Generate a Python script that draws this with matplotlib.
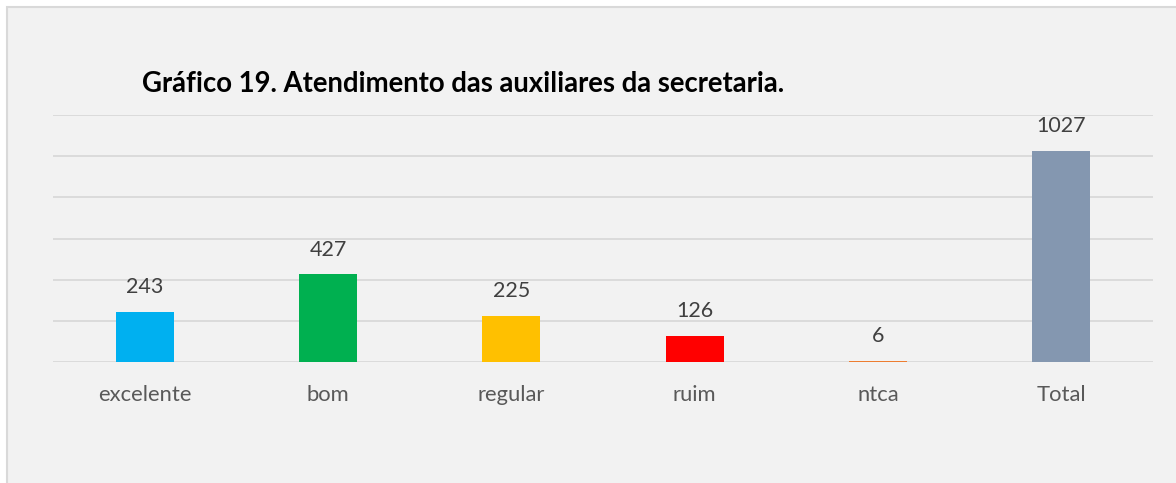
import matplotlib
matplotlib.use("Agg")
from matplotlib import pyplot as plt
from matplotlib.patches import Rectangle

categories = ["excelente", "bom", "regular", "ruim", "ntca", "Total"]
values = [243, 427, 225, 126, 6, 1027]
colors = ["#00B0F0", "#00B050", "#FFC000", "#FF0000", "#ED7D31", "#8497B0"]
title = "Gráfico 19. Atendimento das auxiliares da secretaria."

plt.rcParams["font.family"] = ["Lato", "DejaVu Sans"]

fig = plt.figure(figsize=(11.76, 4.83), dpi=100)
fig.patch.set_facecolor("white")
# chart area frame
fig.patches.append(Rectangle((7 / 1176, -0.1), 1.2, (483 - 7) / 483 + 0.1,
                             transform=fig.transFigure, facecolor="#F2F2F2",
                             edgecolor="#D9D9D9", lw=1.5, zorder=-1))

ax = fig.add_axes([53 / 1176, (483 - 362) / 483, 1100 / 1176, 247 / 483])
ax.set_zorder(2)
ax.set_facecolor("none")
x = range(len(categories))
bars = ax.bar(x, values, width=0.316, color=colors, zorder=3)
ax.set_xlim(-0.5, len(categories) - 0.5)
ax.set_ylim(0, 1200)
ax.set_yticks(range(0, 1201, 200))
ax.yaxis.grid(True, color="#D9D9D9", lw=1.3, zorder=0)
ax.tick_params(left=False, labelleft=False, bottom=False)
for s in ax.spines.values():
    s.set_visible(False)
ax.set_xticks(list(x))
ax.set_xticklabels(categories, fontsize=15.8, color="#595959")
ax.tick_params(axis="x", pad=13)

for b, v in zip(bars, values):
    ax.annotate(str(v), (b.get_x() + b.get_width() / 2, v), xytext=(0, 10.5),
                textcoords="offset points", ha="center", va="bottom",
                fontsize=15.5, color="#404040")

fig.text(142 / 1176, 1 - 84 / 483, title, fontsize=19.8, fontweight="bold",
         color="black", ha="left", va="center", zorder=3)

fig.savefig("out.png", dpi=100)
